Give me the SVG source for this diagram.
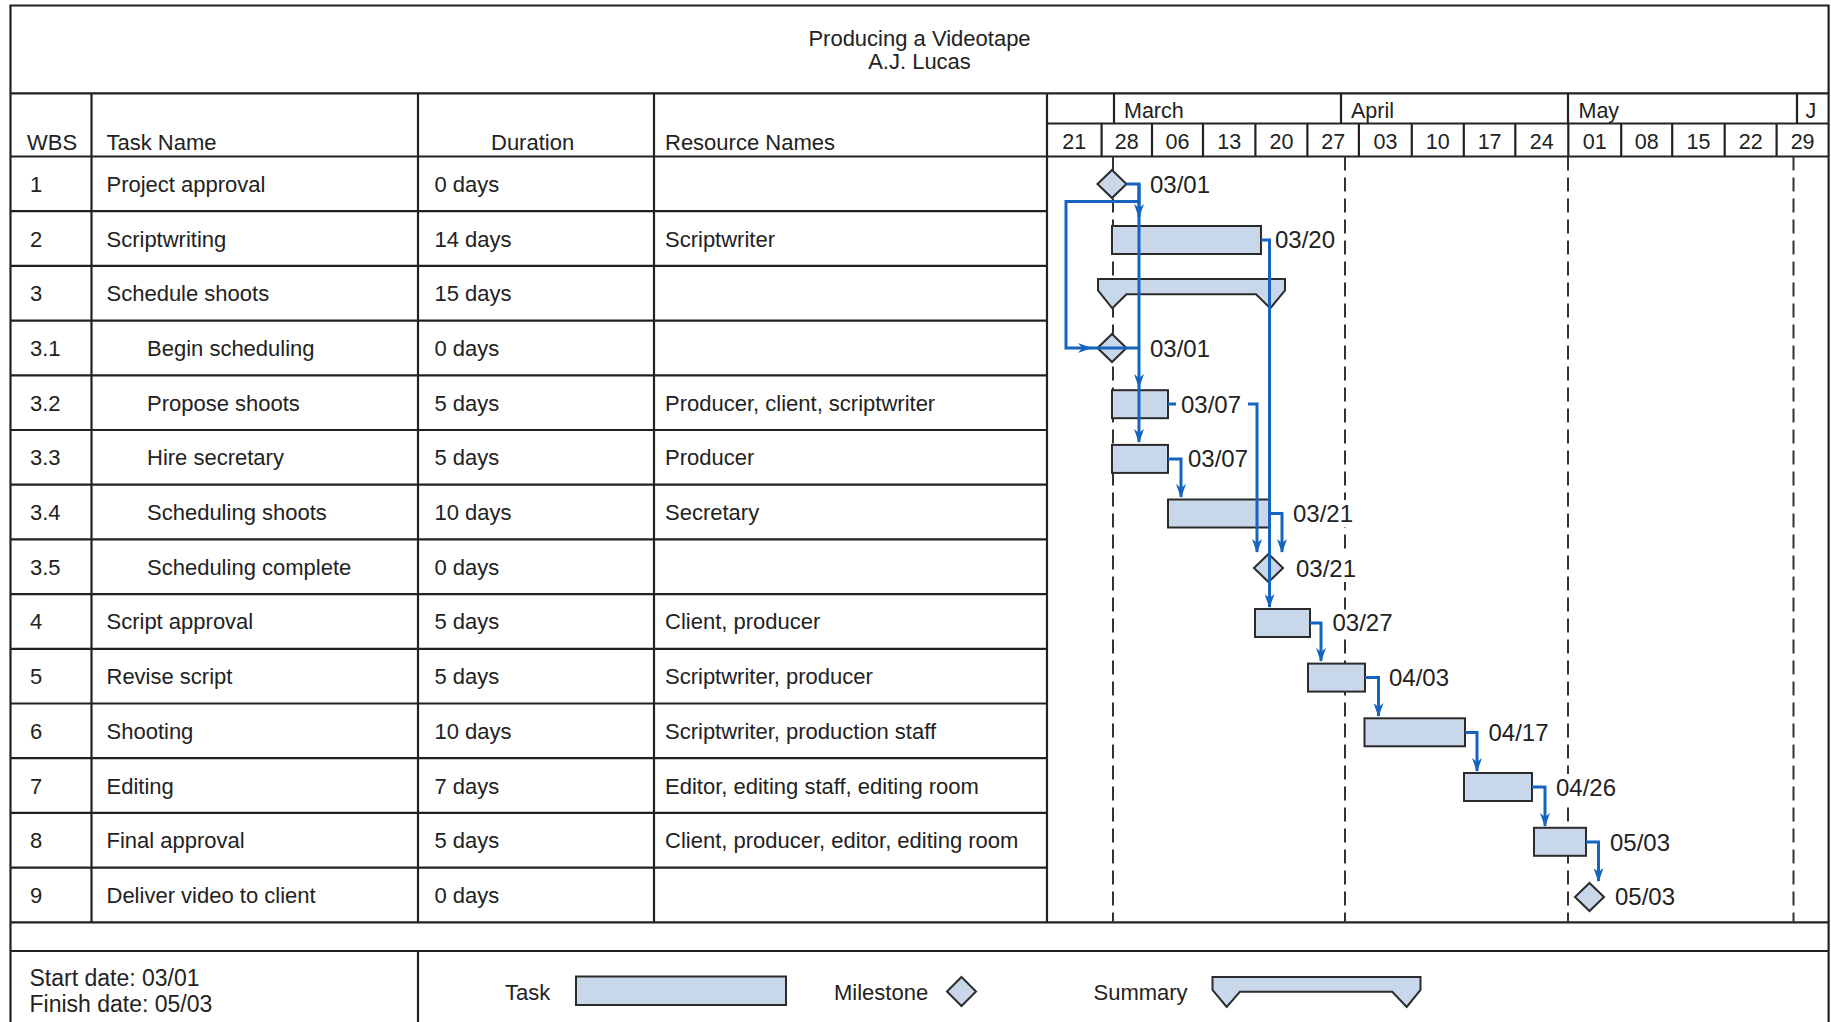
<svg xmlns="http://www.w3.org/2000/svg" width="1831" height="1022" viewBox="0 0 1831 1022">
<defs>
<marker id="arr" viewBox="0 0 14 10" refX="13" refY="5" markerWidth="14" markerHeight="10" markerUnits="userSpaceOnUse" orient="auto"><path d="M0,0 L14,5 L0,10 L4,5 z" fill="#1565c0"/></marker>
</defs>
<style>
text{font-family:"Liberation Sans",Arial,sans-serif;fill:#222}
.t{font-size:22px}
.h{font-size:21.5px}
.lbl{font-size:24px}
.ft{font-size:23px}
.grid{stroke:#222;stroke-width:2.2;fill:none}
.dash{stroke:#333;stroke-width:2;stroke-dasharray:14 7;fill:none}
.bar{fill:#c8d7ea;stroke:#2b2b2b;stroke-width:2}
.bg{fill:#fff;stroke:none}
.lnk{fill:none;stroke:#1565c0;stroke-width:3;marker-end:url(#arr)}
.lnk0{fill:none;stroke:#1565c0;stroke-width:3}
.mid{text-anchor:middle}
</style>
<rect x="0" y="0" width="1831" height="1022" fill="#fff"/>

<g id="grid">
<path class="grid" d="M10.5,1022 V5.5 H1828.6 V1022"/>
<path class="grid" d="M10.5,93.3 H1828.6 M10.5,156.5 H1828.6 M10.5,922.3 H1828.6 M10.5,951 H1828.6 M1047,123.5 H1828.6"/>
<path class="grid" d="M10.5,211.2 H1047 M10.5,265.9 H1047 M10.5,320.6 H1047 M10.5,375.3 H1047 M10.5,430 H1047 M10.5,484.7 H1047 M10.5,539.4 H1047 M10.5,594.1 H1047 M10.5,648.8 H1047 M10.5,703.5 H1047 M10.5,758.2 H1047 M10.5,812.9 H1047 M10.5,867.6 H1047"/>
<path class="grid" d="M91.5,93.3 V922.3 M418,93.3 V922.3 M654,93.3 V922.3 M1047,93.3 V922.3 M418,951 V1022"/>
<path class="grid" d="M1114,93.3 V123.5 M1341,93.3 V123.5 M1568,93.3 V123.5 M1797,93.3 V123.5"/>
<path class="grid" d="M1101.6,123.5 V156.5 M1152,123.5 V156.5 M1203,123.5 V156.5 M1255.4,123.5 V156.5 M1307.4,123.5 V156.5 M1358.9,123.5 V156.5 M1411.8,123.5 V156.5 M1463.8,123.5 V156.5 M1515.3,123.5 V156.5 M1568.3,123.5 V156.5 M1621.2,123.5 V156.5 M1672.2,123.5 V156.5 M1724.7,123.5 V156.5 M1776.6,123.5 V156.5"/>
</g>

<g id="title">
<text class="t mid" x="919.5" y="45.5">Producing a Videotape</text>
<text class="t mid" x="919.5" y="68.5">A.J. Lucas</text>
</g>

<g id="header">
<text class="t" x="27" y="150">WBS</text>
<text class="t" x="106.5" y="150">Task Name</text>
<text class="t" x="491" y="150">Duration</text>
<text class="t" x="665" y="150">Resource Names</text>
<text class="h" x="1124" y="118">March</text>
<text class="h" x="1351" y="118">April</text>
<text class="h" x="1578.5" y="118">May</text>
<text class="h" x="1805.5" y="118">J</text>
<text class="h mid" x="1074.3" y="149">21</text>
<text class="h mid" x="1126.8" y="149">28</text>
<text class="h mid" x="1177.5" y="149">06</text>
<text class="h mid" x="1229.2" y="149">13</text>
<text class="h mid" x="1281.4" y="149">20</text>
<text class="h mid" x="1333.2" y="149">27</text>
<text class="h mid" x="1385.4" y="149">03</text>
<text class="h mid" x="1437.8" y="149">10</text>
<text class="h mid" x="1489.6" y="149">17</text>
<text class="h mid" x="1541.8" y="149">24</text>
<text class="h mid" x="1594.8" y="149">01</text>
<text class="h mid" x="1646.7" y="149">08</text>
<text class="h mid" x="1698.5" y="149">15</text>
<text class="h mid" x="1750.7" y="149">22</text>
<text class="h mid" x="1802.6" y="149">29</text>
</g>

<g id="gridlines">
<path class="dash" d="M1113,156.5 V922.3 M1345,156.5 V922.3 M1568,156.5 V922.3 M1793.5,156.5 V922.3"/>
</g>

<g id="task-1">
<text class="t" x="30" y="192">1</text><text class="t" x="106.5" y="192">Project approval</text><text class="t" x="434.5" y="192">0 days</text>
<polygon class="bar" points="1112,170 1126.5,184 1112,198 1097.5,184"/>
<text class="lbl" x="1150" y="193">03/01</text>
</g>
<g id="task-2">
<text class="t" x="30" y="246.5">2</text><text class="t" x="106.5" y="246.5">Scriptwriting</text><text class="t" x="434.5" y="246.5">14 days</text><text class="t" x="665" y="246.5">Scriptwriter</text>
<rect class="bar" x="1112" y="226" width="149" height="28"/>
<text class="lbl" x="1275" y="248">03/20</text>
</g>
<g id="task-3">
<text class="t" x="30" y="301.2">3</text><text class="t" x="106.5" y="301.2">Schedule shoots</text><text class="t" x="434.5" y="301.2">15 days</text>
<polygon class="bar" points="1098,279 1285,279 1285,290.5 1270.3,308.3 1256,294.3 1126.5,294.3 1112.3,308.3 1098,290.5"/>
</g>
<g id="task-3-1">
<text class="t" x="30" y="356">3.1</text><text class="t" x="147" y="356">Begin scheduling</text><text class="t" x="434.5" y="356">0 days</text>
<polygon class="bar" points="1112,334 1126.5,348 1112,362 1097.5,348"/>
<text class="lbl" x="1150" y="357">03/01</text>
</g>
<g id="task-3-2">
<text class="t" x="30" y="410.6">3.2</text><text class="t" x="147" y="410.6">Propose shoots</text><text class="t" x="434.5" y="410.6">5 days</text><text class="t" x="665" y="410.6">Producer, client, scriptwriter</text>
<rect class="bar" x="1112" y="390.2" width="56" height="28"/>
<text class="lbl" x="1181" y="412.5">03/07</text>
</g>
<g id="task-3-3">
<text class="t" x="30" y="465.3">3.3</text><text class="t" x="147" y="465.3">Hire secretary</text><text class="t" x="434.5" y="465.3">5 days</text><text class="t" x="665" y="465.3">Producer</text>
<rect class="bar" x="1112" y="444.9" width="56" height="28"/>
<text class="lbl" x="1188" y="467">03/07</text>
</g>
<g id="task-3-4">
<text class="t" x="30" y="520">3.4</text><text class="t" x="147" y="520">Scheduling shoots</text><text class="t" x="434.5" y="520">10 days</text><text class="t" x="665" y="520">Secretary</text>
<rect class="bar" x="1168" y="499.5" width="101" height="28"/>
<rect class="bg" x="1291" y="500" width="65" height="27"/>
<text class="lbl" x="1293" y="521.5">03/21</text>
</g>
<g id="task-3-5">
<text class="t" x="30" y="574.7">3.5</text><text class="t" x="147" y="574.7">Scheduling complete</text><text class="t" x="434.5" y="574.7">0 days</text>
<polygon class="bar" points="1268.5,554 1283,568 1268.5,582 1254,568"/>
<rect class="bg" x="1294" y="555" width="65" height="27"/>
<text class="lbl" x="1296" y="576.5">03/21</text>
</g>
<g id="task-4">
<text class="t" x="30" y="629.4">4</text><text class="t" x="106.5" y="629.4">Script approval</text><text class="t" x="434.5" y="629.4">5 days</text><text class="t" x="665" y="629.4">Client, producer</text>
<rect class="bar" x="1255" y="609" width="55" height="28"/>
<rect class="bg" x="1330.5" y="609.5" width="65" height="27"/>
<text class="lbl" x="1332.5" y="631">03/27</text>
</g>
<g id="task-5">
<text class="t" x="30" y="684.1">5</text><text class="t" x="106.5" y="684.1">Revise script</text><text class="t" x="434.5" y="684.1">5 days</text><text class="t" x="665" y="684.1">Scriptwriter, producer</text>
<rect class="bar" x="1308" y="663.6" width="57" height="28"/>
<text class="lbl" x="1389" y="685.5">04/03</text>
</g>
<g id="task-6">
<text class="t" x="30" y="738.8">6</text><text class="t" x="106.5" y="738.8">Shooting</text><text class="t" x="434.5" y="738.8">10 days</text><text class="t" x="665" y="738.8">Scriptwriter, production staff</text>
<rect class="bar" x="1364.5" y="718.3" width="100.5" height="28"/>
<text class="lbl" x="1488.5" y="740.5">04/17</text>
</g>
<g id="task-7">
<text class="t" x="30" y="793.5">7</text><text class="t" x="106.5" y="793.5">Editing</text><text class="t" x="434.5" y="793.5">7 days</text><text class="t" x="665" y="793.5">Editor, editing staff, editing room</text>
<rect class="bar" x="1464" y="773" width="68" height="28"/>
<rect class="bg" x="1554" y="774" width="65" height="27"/>
<text class="lbl" x="1556" y="795.5">04/26</text>
</g>
<g id="task-8">
<text class="t" x="30" y="848.2">8</text><text class="t" x="106.5" y="848.2">Final approval</text><text class="t" x="434.5" y="848.2">5 days</text><text class="t" x="665" y="848.2">Client, producer, editor, editing room</text>
<rect class="bar" x="1534" y="827.8" width="52" height="28"/>
<text class="lbl" x="1610" y="850.5">05/03</text>
</g>
<g id="task-9">
<text class="t" x="30" y="903">9</text><text class="t" x="106.5" y="903">Deliver video to client</text><text class="t" x="434.5" y="903">0 days</text>
<polygon class="bar" points="1589.5,883 1604,897 1589.5,911 1575,897"/>
<text class="lbl" x="1615" y="905">05/03</text>
</g>

<g id="connectors">
<path class="lnk" d="M1126.5,184 H1139 V217"/>
<path class="lnk" d="M1139,184 V201.5 H1066 V348 H1091"/>
<path class="lnk0" d="M1090,348 H1139"/>
<path class="lnk" d="M1139,201.5 V387"/>
<path class="lnk" d="M1139,386 V442"/>
<path class="lnk" d="M1261,240 H1269.5 V607"/>
<path class="lnk0" d="M1168,404 H1176"/>
<path class="lnk" d="M1248,404 H1257 V552"/>
<path class="lnk" d="M1168,459 H1181 V497"/>
<path class="lnk" d="M1269,513.5 H1282 V552"/>
<path class="lnk" d="M1310,623 H1321 V661"/>
<path class="lnk" d="M1365,677.5 H1378.5 V716"/>
<path class="lnk" d="M1465,732.5 H1477 V771"/>
<path class="lnk" d="M1532,787 H1545 V826"/>
<path class="lnk" d="M1586,842 H1598.5 V881"/>
</g>

<g id="footer">
<text class="ft" x="29.5" y="986">Start date: 03/01</text>
<text class="ft" x="29.5" y="1011.5">Finish date: 05/03</text>
</g>
<g id="legend">
<text class="t" x="505" y="1000">Task</text>
<rect class="bar" x="576" y="976.5" width="210" height="28.5"/>
<text class="t" x="834" y="1000">Milestone</text>
<polygon class="bar" points="961.5,977 976,991.5 961.5,1006 947,991.5"/>
<text class="t" x="1093.5" y="1000">Summary</text>
<polygon class="bar" points="1212.5,977 1420.5,977 1420.5,990 1406.7,1007 1392.3,991.7 1240,991.7 1226.7,1007 1212.5,990"/>
</g>
</svg>
